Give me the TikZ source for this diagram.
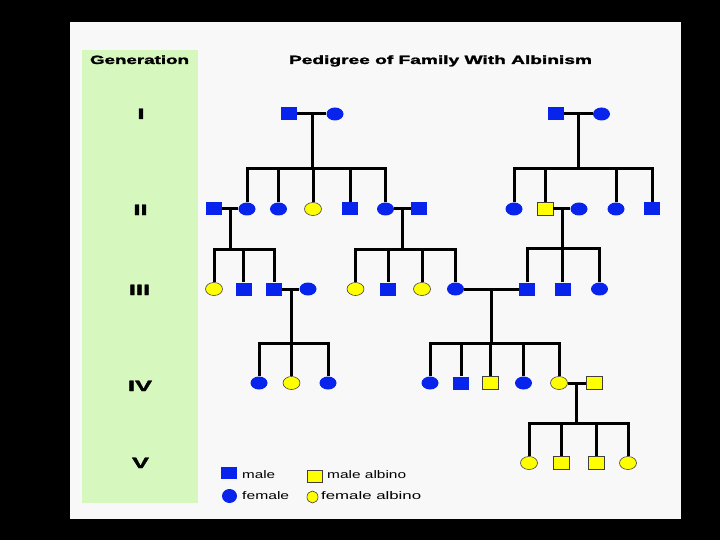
\documentclass[tikz,border=0pt]{standalone}
\usepackage{fontspec}
\setmainfont{Liberation Sans}
\newfontfamily\heavyfont[FakeBold=1.6]{Liberation Sans Bold}
\usetikzlibrary{shapes.geometric,calc}
\definecolor{pblue}{RGB}{8,36,236}
\definecolor{pyel}{RGB}{255,255,0}
\definecolor{pgreen}{RGB}{214,248,190}
\definecolor{panel}{RGB}{248,248,248}
\newcommand\fitw[2]{\resizebox{#1}{\height}{#2}}
\newcommand\pedfam[6]{%
  \draw[link] (#1) -- (#2);
  \coordinate (m-#1) at ($(#1)!0.5!(#2)$);
  \coordinate (lv-#1) at (0,#3);
  \draw[link] (m-#1) -- (m-#1 |- lv-#1);
  \draw[link] (#4) -- (#4 |- lv-#1) -- (#5 |- lv-#1) -- (#5);
  \foreach \ch in {#6} {\draw[link] (\ch) -- (\ch |- lv-#1);}
}
\begin{document}
\begin{tikzpicture}[x=1pt,y=-1pt,
  msq/.style={rectangle,minimum width=16pt,minimum height=13pt,inner sep=0pt,fill=pblue},
  fci/.style={ellipse,minimum width=17pt,minimum height=13pt,inner sep=0pt,fill=pblue},
  msqa/.style={msq,fill=pyel,draw=black!75,line width=0.6pt},
  fcia/.style={fci,fill=pyel,draw=black!75,line width=0.6pt},
  link/.style={line width=3pt,black},
  head/.style={inner sep=0pt,anchor=base,font=\fontsize{12}{14}\selectfont\heavyfont},
  gen/.style={inner sep=0pt,anchor=base,font=\fontsize{15}{17}\selectfont\heavyfont},
  lgt/.style={inner sep=0pt,anchor=base west,font=\fontsize{11}{13}\selectfont},
]
\fill[black] (0,0) rectangle (720,540);
\fill[panel] (70,22) rectangle (681,519);
\fill[pgreen] (82,50) rectangle (198,503);
\useasboundingbox (0,0) rectangle (720,540);

% headings
\node[head] (hgen) at (139.5,64) {\fitw{99pt}{Generation}};
\node[head] (htitle) at (440.5,64) {\fitw{303pt}{Pedigree of Family With Albinism}};
\node[gen] (g1) at (141,119) {\scalebox{1.7}[1]{I}};
\node[gen] (g2) at (140.5,215) {\scalebox{1.7}[1]{II}};
\node[gen] (g3) at (139.5,295) {\scalebox{1.7}[1]{III}};
\node[gen] (g4) at (140,391) {\scalebox{1.7}[1]{IV}};
\node[gen] (g5) at (140.5,468) {\scalebox{1.7}[1]{V}};

% generation I
\node[msq] (a1) at (289,114) {};
\node[fci] (a2) at (335,114) {};
\node[msq] (b1) at (555.5,114) {};
\node[fci] (b2) at (601.5,114) {};
% generation II
\node[msq]  (c1) at (214,209) {};
\node[fci]  (c2) at (247,209) {};
\node[fci]  (c3) at (278.5,209) {};
\node[fcia] (c4) at (313,209) {};
\node[msq]  (c5) at (350,209) {};
\node[fci]  (c6) at (385.5,209) {};
\node[msq]  (c7) at (419,209) {};
\node[fci]  (d1) at (514,209) {};
\node[msqa] (d2) at (545,209) {};
\node[fci]  (d3) at (579,209) {};
\node[fci]  (d4) at (616,209) {};
\node[msq]  (d5) at (652,209) {};
% generation III
\node[fcia] (e1) at (214,289) {};
\node[msq]  (e2) at (243.5,289) {};
\node[msq]  (e3) at (274,289) {};
\node[fci]  (e4) at (308,289) {};
\node[fcia] (f1) at (355.5,289) {};
\node[msq]  (f2) at (388,289) {};
\node[fcia] (f3) at (422,289) {};
\node[fci]  (f4) at (455.5,289) {};
\node[msq]  (k1) at (527,289) {};
\node[msq]  (k2) at (562.5,289) {};
\node[fci]  (k3) at (599.5,289) {};
% generation IV
\node[fci]  (h1) at (259,383) {};
\node[fcia] (h2) at (291.5,383) {};
\node[fci]  (h3) at (328,383) {};
\node[fci]  (i1) at (430,383) {};
\node[msq]  (i2) at (461,383) {};
\node[msqa] (i3) at (490,383) {};
\node[fci]  (i4) at (523.5,383) {};
\node[fcia] (i5) at (559,383) {};
\node[msqa] (i6) at (594,383) {};
% generation V
\node[fcia] (j1) at (529,463) {};
\node[msqa] (j2) at (561,463) {};
\node[msqa] (j3) at (596,463) {};
\node[fcia] (j4) at (628,463) {};

% families
\pedfam{a1}{a2}{169}{c2}{c6}{c3,c4,c5}
\pedfam{b1}{b2}{169}{d1}{d5}{d2,d4}
\pedfam{c1}{c2}{249}{e1}{e3}{e2}
\pedfam{c6}{c7}{249}{f1}{f4}{f2,f3}
\pedfam{d2}{d3}{248}{k1}{k3}{k2}
\pedfam{e3}{e4}{343}{h1}{h3}{h2}
\pedfam{f4}{k1}{343}{i1}{i5}{i2,i3,i4}
\pedfam{i5}{i6}{423}{j1}{j4}{j2,j3}

% legend
\node[msq,minimum height=12pt] (lg1) at (229,472.5) {};
\node[lgt] (lt1) at (242,478) {\fitw{33pt}{male}};
\node[msqa,minimum width=15pt,minimum height=12pt] (lg2) at (314.5,476) {};
\node[lgt] (lt2) at (327,478) {\fitw{79pt}{male albino}};
\node[fci,minimum width=15pt,minimum height=14pt] (lg3) at (229.5,496) {};
\node[lgt] (lt3) at (242,499.5) {\fitw{47pt}{female}};
\node[fcia,minimum width=11pt,minimum height=12pt] (lg4) at (312.5,497) {};
\node[lgt] (lt4) at (321,499.5) {\fitw{100pt}{female albino}};
\end{tikzpicture}
\end{document}
